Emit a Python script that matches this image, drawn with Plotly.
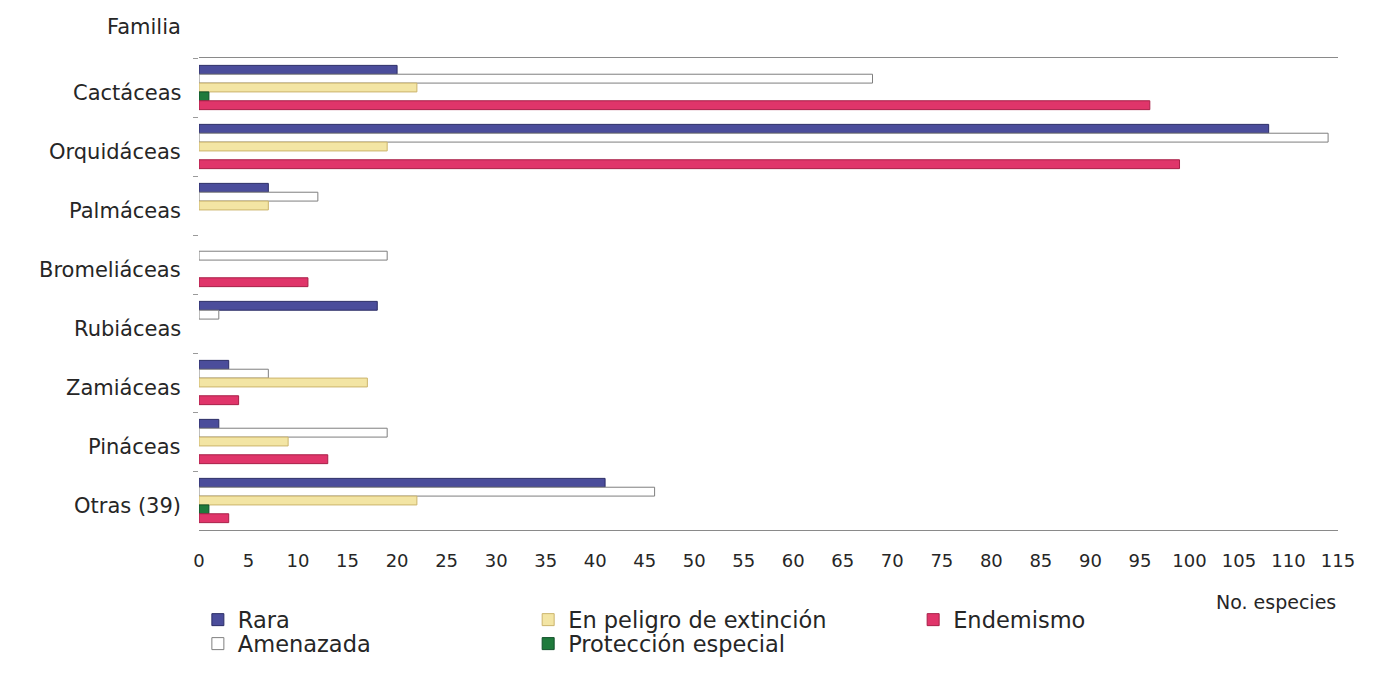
import plotly.graph_objects as go

familias = ["Cactáceas", "Orquidáceas", "Palmáceas", "Bromeliáceas",
            "Rubiáceas", "Zamiáceas", "Pináceas", "Otras (39)"]

# None = no bar drawn for that family
rara = [20, 108, 7, None, 18, 3, 2, 41]
amenazada = [68, 114, 12, 19, 2, 7, 19, 46]
en_peligro = [22, 19, 7, None, None, 17, 9, 22]
proteccion = [1, None, None, None, None, None, None, 1]
endemismo = [96, 99, None, 11, None, 4, 13, 3]

x_ticks = list(range(0, 116, 5))

# name, values, fill, outline, legend id, legend x (paper), legend y (paper)
series = [
    ("Rara", rara, "#4b4d9b", "#2b2d66", "legend", -0.001, -0.1907),
    ("Amenazada", amenazada, "#ffffff", "#7f7f7f", "legend4", -0.001, -0.2415),
    ("En peligro de extinción", en_peligro, "#f3e5a4", "#cbb46c", "legend2", 0.289, -0.1907),
    ("Protección especial", proteccion, "#1f7a3c", "#11502a", "legend5", 0.289, -0.2415),
    ("Endemismo", endemismo, "#e0356a", "#a82048", "legend3", 0.627, -0.1907),
]

font_family = "DejaVu Sans, Verdana, sans-serif"
txt = "#262626"

fig = go.Figure()
legend_layouts = {}
for name, vals, fill, line, leg, lx, ly in series:
    fig.add_trace(go.Bar(
        name=name, y=familias, x=vals, orientation="h",
        marker=dict(color=fill, line=dict(color=line, width=1)),
        legend=leg, showlegend=True,
    ))
    legend_layouts[leg] = dict(
        x=lx, y=ly, xanchor="left", yanchor="middle", orientation="v",
        font=dict(family=font_family, size=22.5, color=txt),
        bgcolor="rgba(0,0,0,0)", borderwidth=0,
    )

annotations = [
    dict(text="Familia", xref="paper", yref="paper", x=-0.014, y=1.0657,
         xanchor="right", yanchor="middle", showarrow=False,
         font=dict(size=21, color=txt)),
    dict(text="No. especies", xref="paper", yref="paper", x=1.0, y=-0.1525,
         xanchor="right", yanchor="middle", showarrow=False,
         font=dict(size=19, color=txt)),
]
for fam in familias:
    annotations.append(dict(
        text=fam, xref="paper", yref="y", x=-0.014, y=fam,
        xanchor="right", yanchor="middle", yshift=-5, showarrow=False,
        font=dict(size=21, color=txt)))

fig.update_layout(
    width=1388, height=683,
    paper_bgcolor="white", plot_bgcolor="white",
    margin=dict(l=191, r=58, t=50, b=161),
    barmode="group", bargap=0.25, bargroupgap=0,
    showlegend=True,
    font=dict(family=font_family, size=18, color=txt),
    xaxis=dict(
        range=[0, 115], tickvals=x_ticks, ticktext=[str(v) for v in x_ticks],
        showgrid=False, zeroline=False, showline=True, mirror=True,
        linecolor="#8a8a8a", linewidth=1, ticks="", ticklabelstandoff=14,
        tickfont=dict(size=18, color=txt),
    ),
    yaxis=dict(
        autorange="reversed", showgrid=False, zeroline=False, showline=False,
        ticks="outside", tickson="boundaries", ticklen=5, tickcolor="#9a9a9a",
        showticklabels=False,
    ),
    annotations=annotations,
    **legend_layouts,
)

fig.write_html("out.html")
